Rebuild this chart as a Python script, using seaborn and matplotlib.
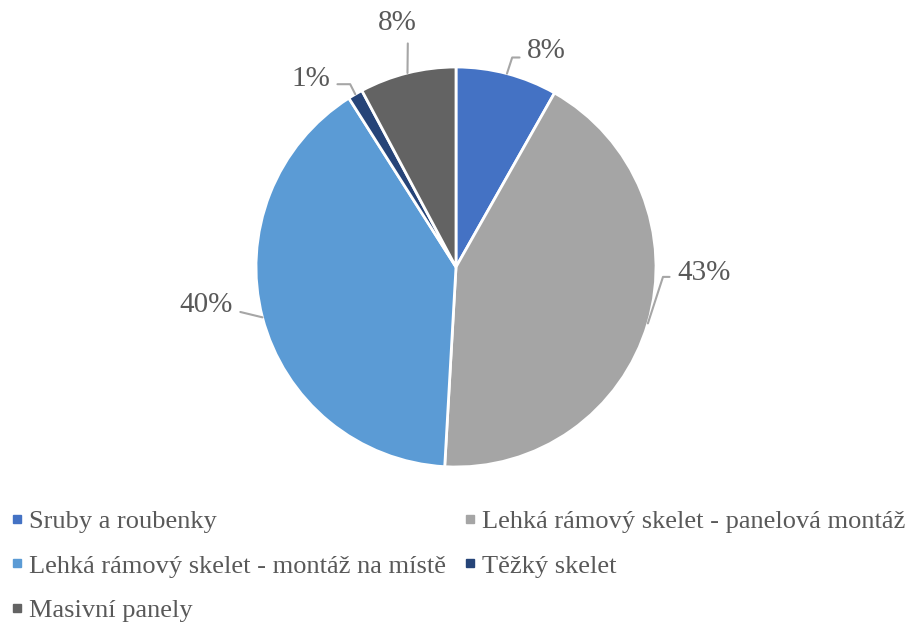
import matplotlib
matplotlib.use("Agg")
import matplotlib.pyplot as plt
import seaborn as sns
import numpy as np
from matplotlib.lines import Line2D

categories = ["Sruby a roubenky", "Lehká rámový skelet - panelová montáž",
              "Lehká rámový skelet - montáž na místě", "Těžký skelet", "Masivní panely"]
shares = [8.2, 42.7, 40.1, 1.2, 7.8]
pct_labels = ["8%", "43%", "40%", "1%", "8%"]
colors = ["#4472C4", "#A5A5A5", "#5B9BD5", "#264478", "#636363"]

# label text positions (data units, pie radius = 1) and leader line styles
label_pos = [(0.355, 1.08), (1.105, -0.03), (-1.115, -0.19), (-0.63, 0.94), (-0.295, 1.22)]
label_ha = ["left", "left", "right", "right", "center"]
label_conn = ["angle,angleA=0,angleB=72,rad=0", "angle,angleA=0,angleB=72,rad=0",
              "arc3,rad=0", "angle,angleA=0,angleB=117,rad=0", "arc3,rad=0"]
label_rel = [(0, 0.25), (0, 0.35), (1, 0.3), (1, 0.3), (0.78, 0)]

sns.set_theme(style="white")
plt.rcParams["font.family"] = ["Liberation Serif", "DejaVu Serif"]

fig = plt.figure(figsize=(9.13, 6.23), dpi=100)
ax = fig.add_axes([0, 0, 1, 1])
wedges, _ = ax.pie(shares, colors=colors, startangle=90, counterclock=False,
                   radius=1, wedgeprops=dict(edgecolor="white", linewidth=2))
ax.set_xlim(-2.28, 2.285)
ax.set_ylim(-1.78, 1.335)
ax.set_aspect("equal")
ax.axis("off")

for w, lab, pos, ha, conn, rel in zip(wedges, pct_labels, label_pos, label_ha, label_conn, label_rel):
    ang = np.deg2rad((w.theta1 + w.theta2) / 2)
    edge = (np.cos(ang), np.sin(ang))
    ax.annotate(lab, xy=edge, xytext=pos, ha=ha, va="center", fontsize=21, color="#595959",
                arrowprops=dict(arrowstyle="-", color="#A6A6A6", lw=1.5,
                                connectionstyle=conn, relpos=rel, shrinkA=3, shrinkB=0))

handles = [Line2D([], [], marker="s", ls="", color=c, markersize=5.5) for c in colors]
order = [0, 2, 4, 1, 3]
fig.legend([handles[i] for i in order], [categories[i] for i in order], ncol=2,
           loc="upper left", bbox_to_anchor=(0.0, 0.197), frameon=False, fontsize=19,
           labelcolor="#595959", handletextpad=0.15, columnspacing=0.6, labelspacing=0.8,
           handlelength=0.6, borderaxespad=0, borderpad=0.35)

fig.savefig("out.png", dpi=100)
